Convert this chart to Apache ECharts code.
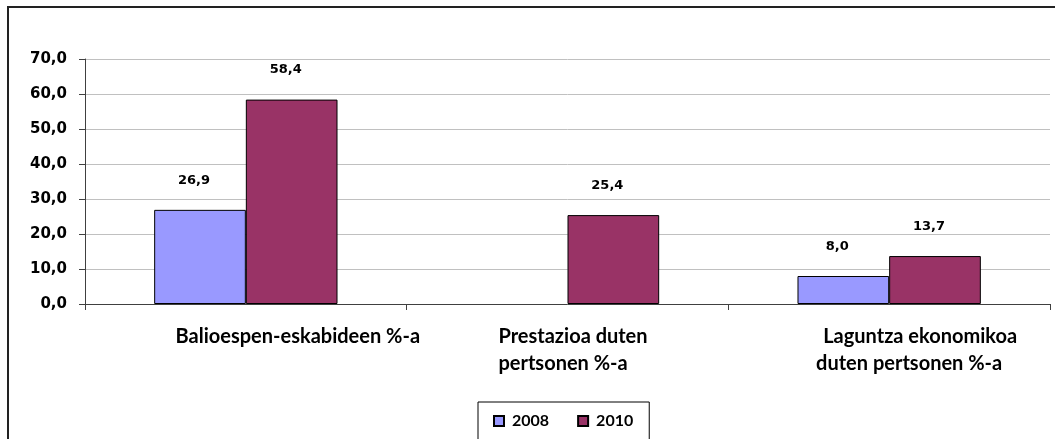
<!DOCTYPE html>
<html>
<head>
<meta charset="utf-8">
<script src="https://cdn.jsdelivr.net/npm/echarts@6/dist/echarts.min.js"></script>
<style>
  html, body { margin: 0; padding: 0; background: #fff; }
  #chart { width: 1055px; height: 439px; }
</style>
</head>
<body>
<div id="chart"></div>
<script>
// ---- data ----
const categories = ['Balioespen-eskabideen %-a', 'Prestazioa duten\npertsonen %-a', 'Laguntza ekonomikoa\nduten pertsonen %-a'];
const seriesNames = ['2008', '2010'];
const values2008 = [26.9, null, 8.0];
const values2010 = [58.4, 25.4, 13.7];
const yMin = 0, yMax = 70, yStep = 10;

// ---- styling helpers ----
const fmt = v => (v == null ? '' : Number(v).toFixed(1).replace('.', ','));
const catFont = { fontFamily: 'Lato', fontWeight: 'bold', fontSize: 20, color: '#000', lineHeight: 27 };
// per-category line styles (alignment / horizontal nudge), layout only
const lineStyles = [
  [{ padding: [0, 0, 0, 104] }],
  [{ align: 'left', padding: [0, 0, 0, 11] }, { align: 'left', padding: [0, 0, 0, 11] }],
  [{ padding: [0, 0, 0, 62] }, { padding: [0, 0, 0, 40] }]
];
const rich = {};
lineStyles.forEach((lines, ci) => lines.forEach((st, li) => {
  rich['c' + ci + 'l' + li] = Object.assign({}, catFont, st);
}));
const valueLabel = {
  show: true, position: 'top', distance: 23, offset: [-6, 0],
  formatter: p => fmt(p.value),
  fontFamily: 'DejaVu Sans', fontWeight: 'bold', fontSize: 13, color: '#000'
};

const chart = echarts.init(document.getElementById('chart'), null, { renderer: 'canvas' });
chart.setOption({
  animation: false,
  backgroundColor: '#fff',
  graphic: [{
    type: 'rect', z: 100, silent: true,
    shape: { x: 8, y: 7, width: 1200, height: 600 },
    style: { fill: null, stroke: '#222', lineWidth: 2 }
  }],
  grid: { left: 85, right: 5, top: 59, height: 245 },
  legend: {
    data: seriesNames,
    left: 478, top: 402,
    padding: [9, 16, 10, 15],
    borderColor: '#000', borderWidth: 1,
    itemWidth: 10, itemHeight: 10, itemGap: 28,
    icon: 'rect',
    textStyle: { fontFamily: 'Lato', fontWeight: 'bold', fontSize: 16, color: '#000', lineHeight: 20, padding: [0, 0, 0, 3] }
  },
  xAxis: {
    type: 'category',
    data: categories,
    axisLine: { lineStyle: { color: '#404040', width: 1 } },
    axisTick: { show: true, length: 6, lineStyle: { color: '#404040' } },
    axisLabel: {
      interval: 0, margin: 19,
      formatter: (value, index) => value.split('\n').map((line, li) => '{c' + index + 'l' + li + '|' + line + '}').join('\n'),
      rich: rich
    }
  },
  yAxis: {
    type: 'value',
    min: yMin, max: yMax, interval: yStep,
    axisLine: { show: true, lineStyle: { color: '#404040', width: 1 } },
    axisTick: { show: true, length: 6, lineStyle: { color: '#404040' } },
    splitLine: { lineStyle: { color: '#c0c0c0', width: 1 } },
    axisLabel: {
      margin: 18,
      formatter: v => fmt(v),
      fontFamily: 'DejaVu Sans', fontWeight: 'bold', fontSize: 15, color: '#000'
    }
  },
  series: [
    {
      name: seriesNames[0], type: 'bar', data: values2008,
      barGap: '0%', barCategoryGap: '43%',
      itemStyle: { color: '#9999ff', borderColor: '#000', borderWidth: 1 },
      label: valueLabel
    },
    {
      name: seriesNames[1], type: 'bar', data: values2010,
      barGap: '0%', barCategoryGap: '43%',
      itemStyle: { color: '#993366', borderColor: '#000', borderWidth: 1 },
      label: valueLabel
    }
  ]
});
</script>
</body>
</html>
